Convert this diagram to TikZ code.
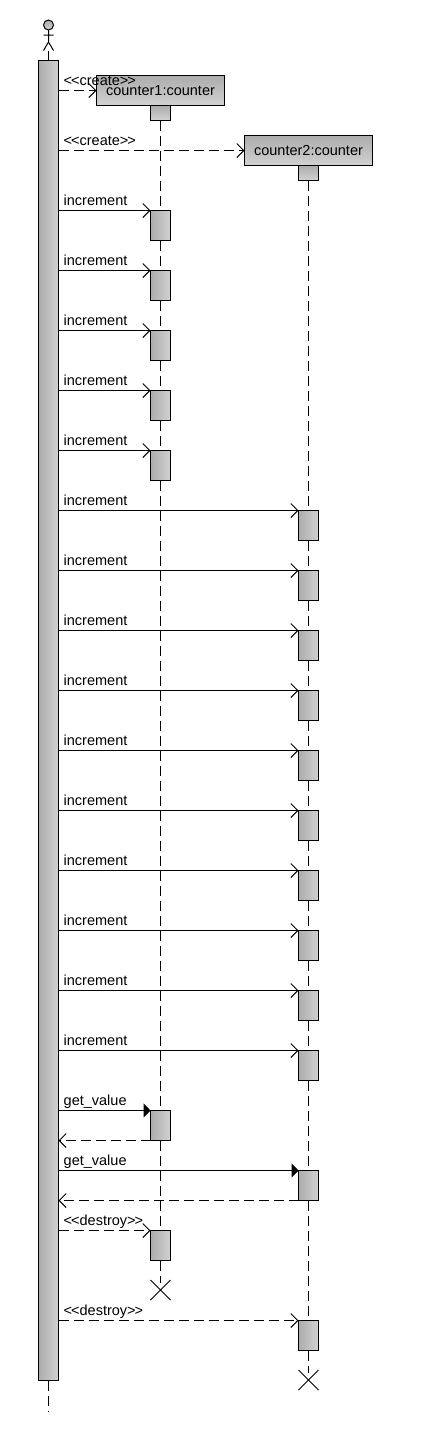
\documentclass[tikz,border=0pt]{standalone}
\usepackage{fontspec}
\setmainfont{Liberation Sans}
\usetikzlibrary{arrows.meta}
\definecolor{gdark}{HTML}{ACACAC}
\definecolor{glight}{HTML}{D2D2D2}
\tikzset{
  x=1pt,y=-1pt,
  boxbase/.style={draw=black,line width=1pt,inner sep=0pt,outer sep=0pt},
  mainbar/.style={boxbase,left color=gdark,right color=glight,minimum width=20pt,minimum height=1320pt,anchor=north west},
  actbox/.style={boxbase,left color=gdark,right color=glight,minimum width=20pt,minimum height=30pt,anchor=north west},
  objbox/.style={boxbase,top color=gdark,bottom color=glight,minimum width=128pt,minimum height=30pt,anchor=north west,font=\fontsize{14.5}{16}\selectfont},
  stembox/.style={boxbase,top color=gdark,bottom color=glight,minimum width=20pt,minimum height=15pt,anchor=north},
  life/.style={line width=1pt,dash pattern=on 10pt off 5pt},
  plainline/.style={line width=1pt},
  syncmsg/.style={line width=1pt,-{Straight Barb[length=7pt,width=14pt,line width=1pt]}},
  dashmsg/.style={syncmsg,dash pattern=on 10pt off 5pt},
  callmsg/.style={line width=1pt,-{Triangle[length=7pt,width=14pt,fill=black]}},
  msglabel/.style={anchor=base west,inner sep=0pt,font=\fontsize{14.5}{16}\selectfont},
}
\newcommand{\msgtext}[3]{\node[msglabel] (#1) at (63.5,#2-5) {#3};}
\newcommand{\stereo}[1]{<\kern-1pt<#1>\kern-1pt>}
\begin{document}
\begin{tikzpicture}
\useasboundingbox (0,0) rectangle (432,1430);
\fill[white] (0,0) rectangle (432,1430);
% lifeline ends
\coordinate (endm) at (48.5,1412);
\coordinate (endone) at (160.5,1283);
\coordinate (endtwo) at (308.5,1373);
% object boxes
\node[mainbar] (main) at (38.5,60.5) {};
\node[objbox] (cone) at (96.5,75.5) {counter1:counter};
\node[objbox] (ctwo) at (244.5,135.5) {counter2:counter};
\node[stembox] (sone) at (cone.south -| endone) {};
\node[stembox] (stwo) at (ctwo.south -| endtwo) {};
% lifelines
\draw[life] (sone.south) -- (endone);
\draw[life] (stwo.south) -- (endtwo);
\draw[life] (main.south) -- (endm);
% actor
\node[boxbase,circle,top color=gdark,bottom color=glight,minimum size=10pt] (head) at (48.5,25) {};
\coordinate (hip) at (48.5,42);
\coordinate (armL) at (43.5,35);
\coordinate (armR) at (53.5,35);
\coordinate (legL) at (43.5,50.5);
\coordinate (legR) at (53.5,50.5);
\coordinate (foot) at (48.5,50.5);
\draw[plainline] (head.south) -- (hip) (armL) -- (armR) (legL) -- (hip) -- (legR);
\draw[life] (foot) -- (main.north);
% activation boxes
\foreach \nm/\yy in {aa/210.5,ab/270.5,ac/330.5,ad/390.5,ae/450.5,av/1110.5,ax/1230.5}
  {\node[actbox] (\nm) at (150.5,\yy) {};}
\foreach \nm/\yy in {ba/510.5,bb/570.5,bc/630.5,bd/690.5,be/750.5,bf/810.5,bg/870.5,bh/930.5,bi/990.5,bj/1050.5,bv/1170.5,bx/1320.5}
  {\node[actbox] (\nm) at (298.5,\yy) {};}
% messages
\draw[dashmsg] (main.east |- cone.west) -- (cone.west);
\draw[dashmsg] (main.east |- ctwo.west) -- (ctwo.west);
\foreach \nm in {aa,ab,ac,ad,ae,ba,bb,bc,bd,be,bf,bg,bh,bi,bj}
  {\draw[syncmsg] (main.east |- \nm.north west) -- (\nm.north west);}
\draw[callmsg] (main.east |- av.north west) -- (av.north west);
\draw[dashmsg] (av.south west) -- (main.east |- av.south west);
\draw[callmsg] (main.east |- bv.north west) -- (bv.north west);
\draw[dashmsg] (bv.south west) -- (main.east |- bv.south west);
\draw[dashmsg] (main.east |- ax.north west) -- (ax.north west);
\draw[dashmsg] (main.east |- bx.north west) -- (bx.north west);
% destruction marks
\coordinate (xone) at (160.5,1290);
\coordinate (xtwo) at (308.5,1380);
\draw[plainline] ([shift={(-10,-10)}]xone) -- ([shift={(10,10)}]xone) ([shift={(-10,10)}]xone) -- ([shift={(10,-10)}]xone);
\draw[plainline] ([shift={(-10,-10)}]xtwo) -- ([shift={(10,10)}]xtwo) ([shift={(-10,10)}]xtwo) -- ([shift={(10,-10)}]xtwo);
% labels
\msgtext{lcra}{90}{\stereo{create}}
\msgtext{lcrb}{150}{\stereo{create}}
\foreach \i/\yy in {1/210,2/270,3/330,4/390,5/450,6/510,7/570,8/630,9/690,10/750,11/810,12/870,13/930,14/990,15/1050}
  {\msgtext{linc\i}{\yy}{increment}}
\msgtext{lgva}{1110}{get\_value}
\msgtext{lgvb}{1170}{get\_value}
\msgtext{ldsa}{1230}{\stereo{destroy}}
\msgtext{ldsb}{1320}{\stereo{destroy}}
\end{tikzpicture}
\end{document}
